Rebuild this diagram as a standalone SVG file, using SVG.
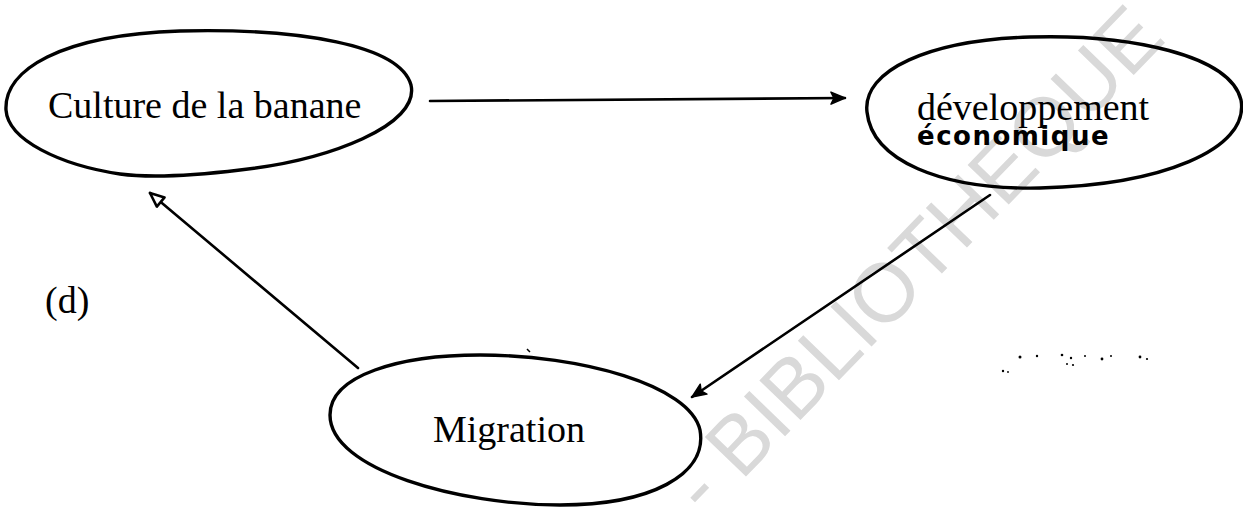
<svg xmlns="http://www.w3.org/2000/svg" width="1243" height="511" viewBox="0 0 1243 511">
  <style>
    .node-outline { fill: none; stroke: #000; stroke-width: 3.4; stroke-linejoin: round; }
    .label { font-family: "Liberation Serif", "Times New Roman", serif; font-size: 38px; fill: #000; }
    .hand { font-family: "DejaVu Sans", sans-serif; font-weight: bold; font-size: 26px; letter-spacing: 1.5px; fill: #000; }
    .link { fill: none; stroke: #000; stroke-width: 2.6; stroke-linecap: round; }
    .watermark { font-family: "Liberation Sans", Arial, sans-serif; font-size: 83px; fill: #d9d9d9; }
    .speck { fill: #000; }
  </style>
  <defs>
    <marker id="head-solid" markerUnits="userSpaceOnUse" markerWidth="18" markerHeight="16" refX="15" refY="7" orient="auto">
      <path d="M1,1 L15,7 L1,13 L4,7 Z" fill="#000" stroke="#000" stroke-width="1.5" stroke-linejoin="round"/>
    </marker>
    <marker id="head-open" markerUnits="userSpaceOnUse" markerWidth="20" markerHeight="18" refX="16" refY="8" orient="auto">
      <path d="M2,2 L16,8 L2,14 Z" fill="#fff" stroke="#000" stroke-width="2.6" stroke-linejoin="round"/>
    </marker>
  </defs>

  <!-- faint diagonal watermark -->
  <text class="watermark" x="706" y="518" transform="rotate(-46 706 518)">- BIBLIOTHEQUE</text>

  <!-- connectors -->
  <g id="connectors">
    <path class="link" d="M430,101 L845,98" marker-end="url(#head-solid)"/>
    <path class="link" d="M990,195 L692,397" marker-end="url(#head-solid)"/>
    <path class="link" d="M358,368 L150,193" marker-end="url(#head-open)"/>
  </g>

  <g id="node-culture">
    <path class="node-outline" d="M6,110 C4,70 60,35 180,31 C300,28 400,45 411,85 C420,125 330,160 240,170 C190,176 150,178 120,174 C60,165 8,140 6,110 Z"/>
    <text class="label" x="48" y="118">Culture de la banane</text>
  </g>

  <g id="node-developpement">
    <path class="node-outline" d="M867,112 C862,70 930,40 1030,37 C1130,34 1230,55 1241,100 C1250,150 1160,185 1040,188 C940,190 872,160 867,112 Z"/>
    <text class="label" x="917" y="120">développement</text>
    <text class="hand" x="917" y="145">économique</text>
  </g>

  <g id="node-migration">
    <path class="node-outline" d="M330,415 C330,375 400,355 480,355 C580,355 690,385 700,430 C708,475 650,505 560,505 C460,505 330,470 330,415 Z"/>
    <text class="label" x="433" y="442">Migration</text>
  </g>

  <g id="caption">
    <text class="label" x="45" y="313">(d)</text>
  </g>

  <!-- scattered specks -->
  <g id="specks">
    <circle class="speck" cx="1020" cy="357" r="1.5"/>
    <circle class="speck" cx="1037" cy="356" r="1.2"/>
    <circle class="speck" cx="1062" cy="355" r="1.3"/>
    <circle class="speck" cx="1071" cy="358" r="1.2"/>
    <circle class="speck" cx="1073" cy="365" r="1.1"/>
    <circle class="speck" cx="1067" cy="364" r="1"/>
    <circle class="speck" cx="1085" cy="356" r="1"/>
    <circle class="speck" cx="1102" cy="359" r="1.4"/>
    <circle class="speck" cx="1111" cy="356" r="1"/>
    <circle class="speck" cx="1140" cy="357" r="1.4"/>
    <circle class="speck" cx="1147" cy="359" r="1.1"/>
    <circle class="speck" cx="1003" cy="371" r="1.2"/>
    <circle class="speck" cx="1008" cy="372" r="0.9"/>
    <path d="M527,349 L530,352" stroke="#000" stroke-width="1.5"/>
  </g>
</svg>
